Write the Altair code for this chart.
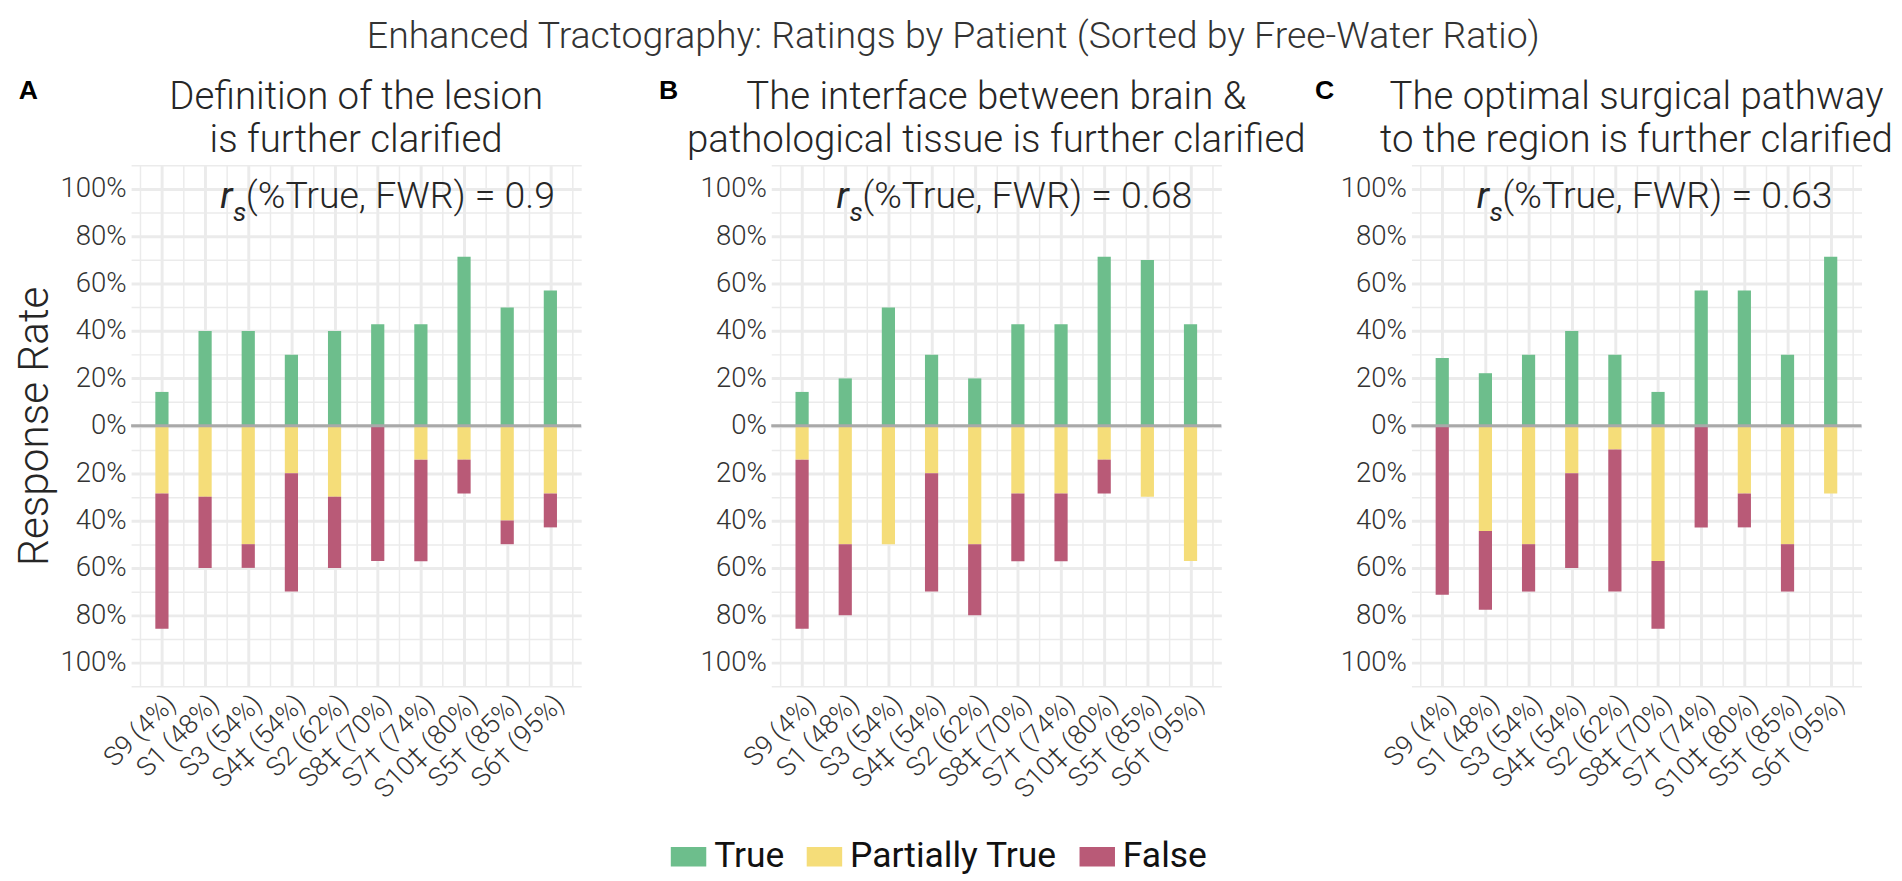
import json
import altair as alt
import pandas as pd

# ---------------- data ----------------
patients = ["S9 (4%)", "S1 (48%)", "S3 (54%)", "S4‡ (54%)", "S2 (62%)",
            "S8‡ (70%)", "S7† (74%)", "S10‡ (80%)", "S5† (85%)", "S6† (95%)"]

categories = ["True", "Partially True", "False"]
colors = ["#6DBE8C", "#F5DD79", "#B95A77"]

A_true = [14.3, 40, 40, 30, 40, 42.9, 42.9, 71.4, 50, 57.1]
A_part = [28.6, 30, 50, 20, 30, 0, 14.3, 14.3, 40, 28.6]
A_false = [57.1, 30, 10, 50, 30, 57.1, 42.9, 14.3, 10, 14.3]

B_true = [14.3, 20, 50, 30, 20, 42.9, 42.9, 71.4, 70, 42.9]
B_part = [14.3, 50, 50, 20, 50, 28.6, 28.6, 14.3, 30, 57.1]
B_false = [71.4, 30, 0, 50, 30, 28.6, 28.6, 14.3, 0, 0]

C_true = [28.6, 22.2, 30, 40, 30, 14.3, 57.1, 57.1, 30, 71.4]
C_part = [0, 44.4, 50, 20, 10, 57.1, 0, 28.6, 50, 28.6]
C_false = [71.4, 33.3, 20, 40, 60, 28.6, 42.9, 14.3, 20, 0]

panel_titles = [
    ["Definition of the lesion", "is further clarified"],
    ["The interface between brain &", "pathological tissue is further clarified"],
    ["The optimal surgical pathway", "to the region is further clarified"],
]
panel_letters = ["A", "B", "C"]
rs_values = ["0.9", "0.68", "0.63"]
rs_x = [2.35, 1.8, 1.8]

main_title = "Enhanced Tractography: Ratings by Patient (Sorted by Free-Water Ratio)"

series = [(A_true, A_part, A_false), (B_true, B_part, B_false), (C_true, C_part, C_false)]

FONT = "Roboto"
TXT = "#262626"

xvals = [k / 2 for k in range(1, 22)]          # 0.5 .. 10.5
yvals = [round(k / 10, 1) for k in range(-11, 12)]

x_label_expr = ("datum.value % 1 === 0 ? " + json.dumps(patients, ensure_ascii=False)
                + "[datum.value - 1] : ''")
y_label_expr = ("abs(round(datum.value * 10)) % 2 === 0 ? "
                "format(abs(datum.value), '.0%') : ''")
grid_w = {"condition": {"test": "abs(round(datum.value * 10)) % 2 === 0", "value": 3}, "value": 1.5}
xgrid_w = {"condition": {"test": "datum.value % 1 === 0", "value": 3}, "value": 1.5}

xscale = alt.Scale(domain=[0.4, 10.6], nice=False, zero=False)
yscale = alt.Scale(domain=[-1.1, 1.1], nice=False, zero=False)


def build_df(t, p, f):
    rows = []
    for i, name in enumerate(patients):
        idx = i + 1
        rows.append(dict(idx=idx, patient=name, cat="True", lo=0.0, hi=t[i] / 100))
        rows.append(dict(idx=idx, patient=name, cat="Partially True", lo=0.0, hi=-p[i] / 100))
        rows.append(dict(idx=idx, patient=name, cat="False", lo=-p[i] / 100,
                         hi=-(p[i] + f[i]) / 100))
    return pd.DataFrame(rows)


def make_panel(k):
    t, p, f = series[k]
    df = build_df(t, p, f)
    yaxis = alt.Axis(values=yvals, labelExpr=y_label_expr, ticks=False, domain=False,
                     grid=True, gridColor="#EBEBEB", gridWidth=grid_w,
                     labelFontSize=28, labelColor="#333333", labelFont=FONT,
                     labelFontWeight=300, labelPadding=5,
                     title="Response Rate" if k == 0 else "",
                     titleFontSize=43, titleFont=FONT, titleFontWeight=300,
                     titleColor=TXT, titlePadding=4)
    xaxis = alt.Axis(values=xvals, labelExpr=x_label_expr, ticks=False, domain=False,
                     grid=True, gridColor="#EBEBEB", gridWidth=xgrid_w,
                     labelAngle=315, labelAlign="right", labelBaseline="top",
                     labelFontSize=27, labelColor="#333333", labelFont=FONT,
                     labelFontWeight=300, labelPadding=4, labelOverlap=False,
                     labelBound=False, labelFlush=False, title="")
    X = lambda f: alt.X(f, scale=xscale, axis=xaxis)
    Y = lambda f: alt.Y(f, scale=yscale, axis=yaxis)

    bars = alt.Chart(df).mark_bar(width=13.4, opacity=1).encode(
        x=X("idx:Q"),
        y=Y("lo:Q"),
        y2="hi:Q",
        color=alt.Color("cat:N", scale=alt.Scale(domain=categories, range=colors),
                        legend=alt.Legend(
                            orient="none", direction="horizontal", title=None,
                            legendX=548, legendY=684,
                            labelFontSize=36, labelFont=FONT, labelColor="#111111",
                            labelLimit=400,
                            symbolType="M-1,-0.55L1,-0.55L1,0.55L-1,0.55Z",
                            symbolSize=1296, symbolStrokeWidth=0, symbolOpacity=1,
                            columnPadding=22, labelOffset=8)),
    )
    zero = alt.Chart(pd.DataFrame({"z": [0.0]})).mark_rule(
        color="#A9A9A9", strokeWidth=3).encode(y=Y("z:Q"))

    ann_df = pd.DataFrame({"x": [rs_x[k]], "y": [0.92],
                           "r": ["r"], "s": ["s"],
                           "txt": ["(%True, FWR) = " + rs_values[k]]})
    ann_base = alt.Chart(ann_df).encode(x=X("x:Q"), y=Y("y:Q"))
    r_txt = ann_base.mark_text(align="left", baseline="alphabetic", fontSize=38,
                               font=FONT, fontStyle="italic", color=TXT).encode(text="r:N")
    s_txt = ann_base.mark_text(align="left", baseline="alphabetic", fontSize=27,
                               font=FONT, fontStyle="italic", color=TXT,
                               dx=13, dy=13).encode(text="s:N")
    m_txt = ann_base.mark_text(align="left", baseline="alphabetic", fontSize=38,
                               font=FONT, fontWeight=300, color=TXT,
                               dx=26).encode(text="txt:N")

    letter_dx = [-114, -114, -98][k]
    letter = alt.Chart(pd.DataFrame({"t": [panel_letters[k]]})).mark_text(
        align="left", baseline="alphabetic", fontSize=27, font="Liberation Sans",
        fontWeight="bold", color="#000000").encode(
        text="t:N", x=alt.value(letter_dx), y=alt.value(-67))

    return alt.layer(bars, zero, r_txt, s_txt, m_txt, letter).properties(
        width=457, height=529,
        title=alt.TitleParams(text=panel_titles[k], fontSize=39, font=FONT,
                              fontWeight=300, color=TXT, anchor="middle",
                              frame="group", offset=-84, lineHeight=44),
    )


chart = alt.hconcat(make_panel(0), make_panel(1), make_panel(2), spacing=193,
                    bounds="flush").properties(
    title=alt.TitleParams(text=main_title, fontSize=38, font=FONT, fontWeight=300,
                          color="#333333", anchor="middle", frame="bounds", offset=22),
).configure(font=FONT, padding={"top": 4, "left": 5, "right": 0, "bottom": 0}
            ).configure_view(stroke=None)

chart.save("out.html", embed_options={"renderer": "svg", "actions": False})
